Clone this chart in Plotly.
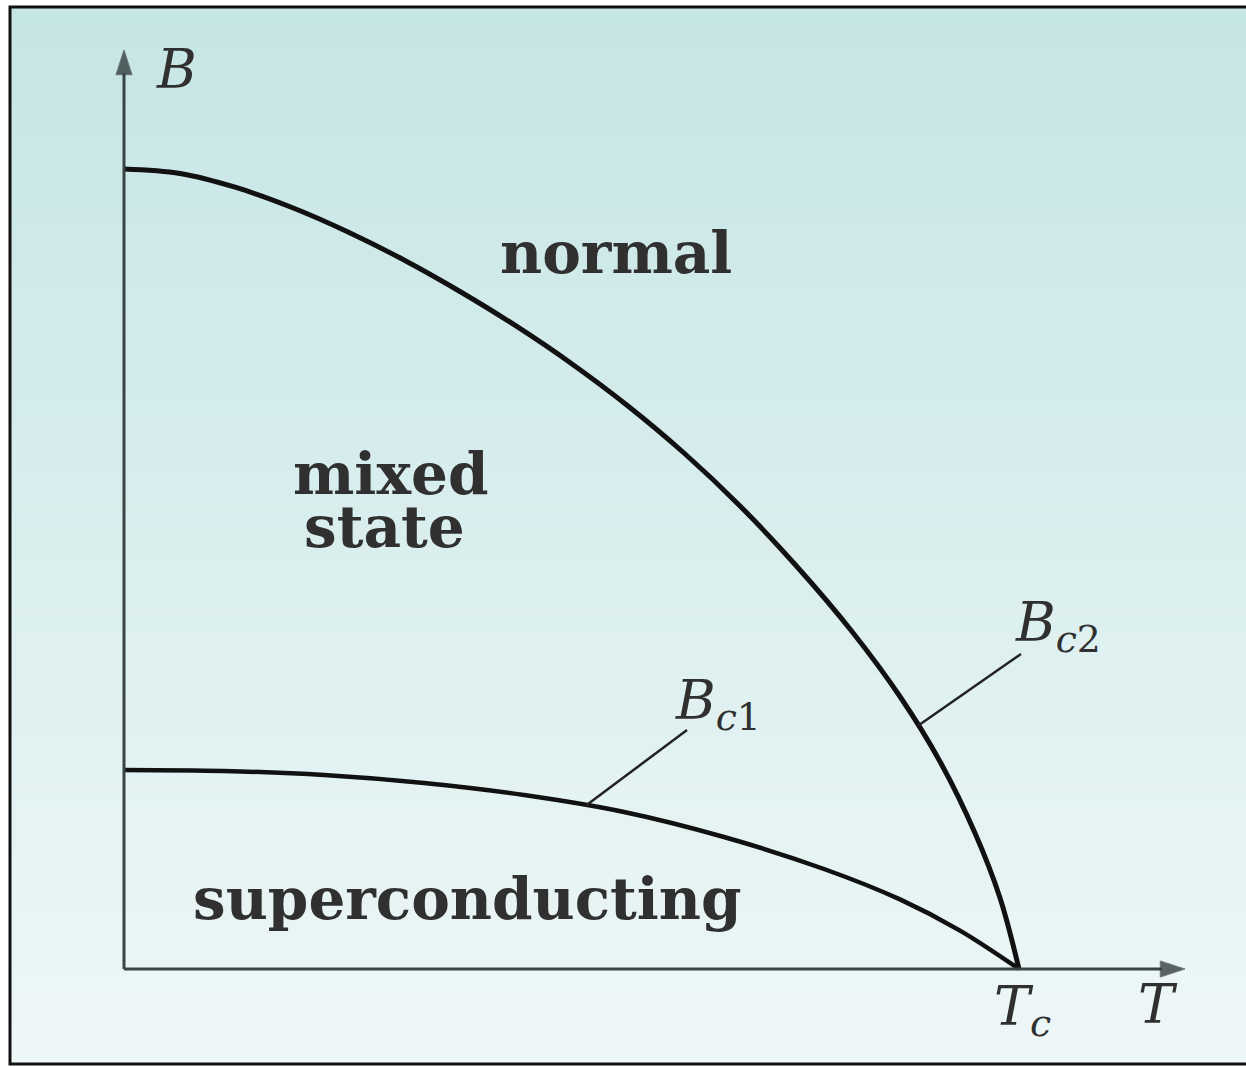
import numpy as np
import plotly.graph_objects as go

# phase boundaries, T in units of Tc, B in units of Bc2(0)
bc2_t = [0.0, 0.0626, 0.1251, 0.1877, 0.2503, 0.3128, 0.3754, 0.4380, 0.5006, 0.5631,
         0.6257, 0.6883, 0.7508, 0.8134, 0.8670, 0.9117, 0.9508, 0.9788, 1.0]
bc2_b = [1.0, 0.9944, 0.9769, 0.9519, 0.9213, 0.8863, 0.8469, 0.8038, 0.7563, 0.7038,
         0.645, 0.5788, 0.5044, 0.4219, 0.3406, 0.2594, 0.17, 0.0888, 0.0]
bc1_t = [0.0, 0.1117, 0.2235, 0.3352, 0.4469, 0.5587, 0.6704, 0.7821, 0.8670, 0.9341, 1.0]
bc1_b = [0.2488, 0.2475, 0.2425, 0.2325, 0.2175, 0.1963, 0.165, 0.125, 0.087, 0.048, 0.0]

region_labels = ["normal", "mixed", "state", "superconducting"]

W, H = 1246, 1067
X0, Y0, SX, SY = 124, 969, 895, 800  # pixel position of origin and scale


def tx(px):
    return (px - X0) / SX


def by(py):
    return (Y0 - py) / SY


FONT = "DejaVu Serif"
INK = "#303030"
AXIS = "#3a4444"

fig = go.Figure()

fig.add_trace(go.Scatter(x=bc2_t, y=bc2_b, mode="lines",
                         line=dict(color="#111", width=5, shape="spline", smoothing=1.0),
                         hoverinfo="skip"))
fig.add_trace(go.Scatter(x=bc1_t, y=bc1_b, mode="lines",
                         line=dict(color="#111", width=4.5, shape="spline", smoothing=1.0),
                         hoverinfo="skip"))

# leader lines from a point on each curve up to its label
t1 = tx(586)
t2 = tx(918)
fig.add_trace(go.Scatter(x=[t1, tx(687)], y=[np.interp(t1, bc1_t, bc1_b), by(730)], mode="lines",
                         line=dict(color="#222", width=2.5), hoverinfo="skip"))
fig.add_trace(go.Scatter(x=[t2, tx(1021)], y=[np.interp(t2, bc2_t, bc2_b), by(654)], mode="lines",
                         line=dict(color="#222", width=2.5), hoverinfo="skip"))

# axes with arrow tips
fig.add_trace(go.Scatter(x=[0, 0], y=[0, by(50)], mode="lines+markers",
                         line=dict(color=AXIS, width=3),
                         marker=dict(symbol="arrow", size=[0, 26], angleref="previous", color="#1e2626"),
                         hoverinfo="skip"))
fig.add_trace(go.Scatter(x=[0, tx(1185)], y=[0, 0], mode="lines+markers",
                         line=dict(color=AXIS, width=3),
                         marker=dict(symbol="arrow", size=[0, 26], angleref="previous", color="#1e2626"),
                         hoverinfo="skip"))

# background: vertical gradient inside the frame
shapes = []
top_c = (198, 229, 229)
bot_c = (238, 247, 247)
n = 90
y_top, y_bot = 7, 1064
for i in range(n):
    f = i / (n - 1)
    c = tuple(round(top_c[k] + (bot_c[k] - top_c[k]) * f) for k in range(3))
    p0 = y_top + (y_bot - y_top) * i / n
    p1 = y_top + (y_bot - y_top) * (i + 1) / n
    shapes.append(dict(type="rect", xref="paper", yref="paper",
                       x0=10 / W, x1=1.01, y0=1 - p1 / H - 0.001, y1=1 - p0 / H,
                       fillcolor="rgb(%d,%d,%d)" % c, line=dict(width=0), layer="below"))
shapes.append(dict(type="rect", xref="paper", yref="paper",
                   x0=10 / W, x1=1.01, y0=1 - 1064 / H, y1=1 - 7 / H,
                   fillcolor="rgba(0,0,0,0)", line=dict(color="#111", width=3), layer="above"))

annotations = []
label_pos = [(616, 253), (390, 474), (384, 527), (467, 899)]
for txt, (px, py) in zip(region_labels, label_pos):
    annotations.append(dict(x=tx(px), y=by(py), xref="x", yref="y", text="<b>%s</b>" % txt,
                            showarrow=False, xanchor="center", yanchor="middle",
                            font=dict(family=FONT, size=58, color=INK)))

math_labels = [
    ("<i>B</i>", 176, 69),
    ("<i>T</i>", 1158, 1004),
    ("<i>T</i><sub><i>c</i></sub>", 1022, 1010),
    ("<i>B</i><sub><i>c</i>1</sub>", 718, 704),
    ("<i>B</i><sub><i>c</i>2</sub>", 1058, 626),
]
for txt, px, py in math_labels:
    annotations.append(dict(x=tx(px), y=by(py), xref="x", yref="y", text=txt, showarrow=False,
                            xanchor="center", yanchor="middle",
                            font=dict(family=FONT, size=54, color=INK)))

fig.update_layout(
    width=W, height=H,
    margin=dict(l=0, r=0, t=0, b=0),
    paper_bgcolor="white",
    plot_bgcolor="rgba(0,0,0,0)",
    showlegend=False,
    xaxis=dict(range=[tx(0), tx(W)], visible=False, fixedrange=True),
    yaxis=dict(range=[by(H), by(0)], visible=False, fixedrange=True),
    shapes=shapes,
    annotations=annotations,
)

fig.write_html("out.html", config={"displayModeBar": False},
               post_script="document.body.style.margin='0';")
